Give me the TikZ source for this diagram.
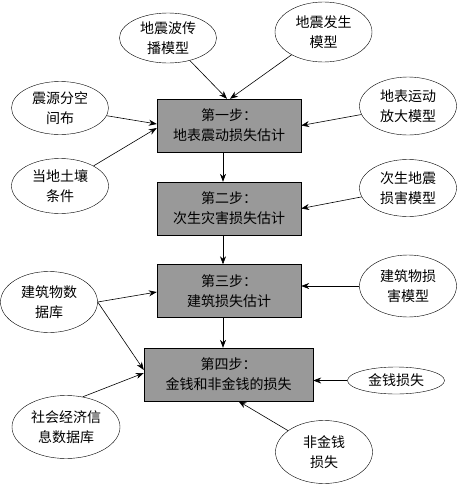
\documentclass[tikz,border=0pt]{standalone}
\usepackage{fontspec}
\setmainfont{Noto Sans CJK SC}
\usetikzlibrary{shapes.geometric,arrows.meta}

\begin{document}
\begin{tikzpicture}[x=1pt,y=-1pt,
  stepbox/.style={draw,fill=black!40,minimum width=#1,minimum height=53pt,inner sep=0pt,align=center},
  factor/.style={draw,ellipse,minimum width=97pt,minimum height=#1,inner sep=0pt,align=center},
  link/.style={-{Stealth[length=8pt,width=6pt]},semithick},
  font=\fontsize{14}{20}\selectfont]
  \useasboundingbox (0,0) rectangle (468,493);
  \node [stepbox=144pt,name=step1] at (229,125.5) {第一步：\\地表震动损失估计};
  \node [stepbox=144pt,name=step2] at (229,208.5) {第二步：\\次生灾害损失估计};
  \node [stepbox=144pt,name=step3] at (229,291) {第三步：\\建筑损失估计};
  \node [stepbox=169pt,name=step4] at (228.5,374.5) {第四步：\\金钱和非金钱的损失};
  \node [factor=50pt,name=wave] at (168,38) {地震波传\\播模型};
  \node [factor=60pt,name=quake] at (323.5,32) {地震发生\\模型};
  \node [factor=53pt,name=source] at (60,108) {震源分空\\间布};
  \node [factor=55pt,name=soil] at (60,186) {当地土壤\\条件};
  \node [factor=58pt,name=amplify] at (408,106) {地表运动\\放大模型};
  \node [factor=57pt,name=secondary] at (408,188) {次生地震\\损害模型};
  \node [factor=61pt,name=database] at (49,302) {建筑物数\\据库};
  \node [factor=62pt,name=damage] at (408,286) {建筑物损\\害模型};
  \node [factor=27pt,name=money] at (396,380.5) {金钱损失};
  \node [factor=63pt,minimum width=108pt,name=socio] at (66,427) {社会经济信\\息数据库};
  \node [factor=63pt,name=nonmoney] at (324,452) {非金钱\\损失};
  \draw [link] (wave) -- ([xshift=-2pt]step1.north);
  \draw [link] (quake) -- ([xshift=1pt]step1.north);
  \draw [link] (source) -- ([yshift=1.5pt]step1.west);
  \draw [link] (soil) -- ([yshift=-2.5pt]step1.west);
  \draw [link] (amplify) -- (step1.east);
  \draw [link] (secondary) -- (step2.east);
  \draw [link] ([xshift=-6pt]step1.south) -- ([xshift=-6pt]step2.north);
  \draw [link] ([xshift=-6pt]step2.south) -- ([xshift=-6pt]step3.north);
  \draw [link] ([xshift=-6pt]step3.south) -- ([xshift=-5.5pt]step4.north);
  \draw [link] (database.east) -- ([yshift=-1pt]step3.west);
  \draw [link] (database.east) -- ([yshift=4.5pt]step4.west);
  \draw [link] (socio.61) -- ([yshift=1.5pt]step4.west);
  \draw [link] (damage.west) -- (damage.west -| step3.east);
  \draw [link] (money.west) -- (money.west -| step4.east);
  \draw [link] (nonmoney) -- ([xshift=10pt]step4.south);
\end{tikzpicture}
\end{document}
